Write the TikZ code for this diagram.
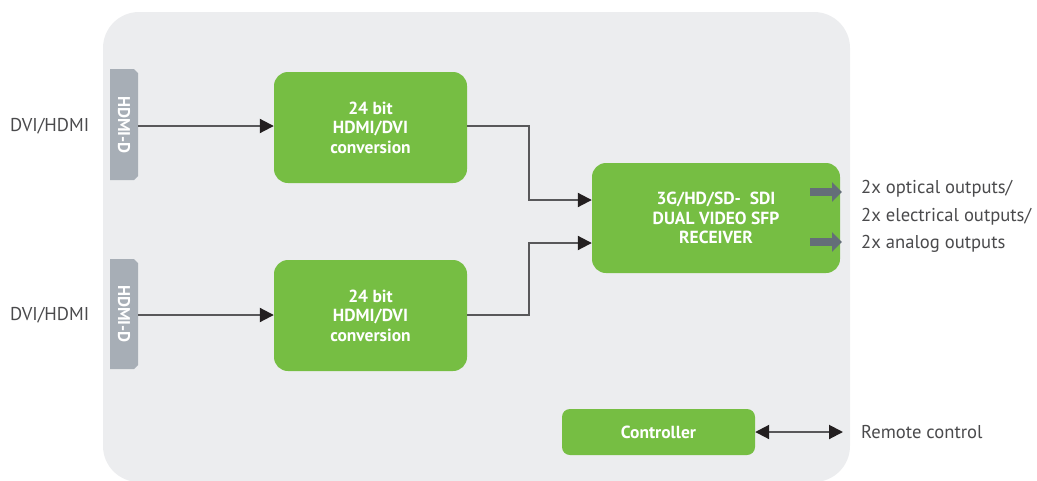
\documentclass[tikz,border=0pt]{standalone}
\usepackage{fontspec}
\setmainfont{PT Sans}
\usetikzlibrary{arrows.meta,calc}
\definecolor{bgpanel}{HTML}{ECEDEF}
\definecolor{boxgreen}{HTML}{76BE43}
\definecolor{conngray}{HTML}{A7AEB6}
\definecolor{blockgray}{HTML}{646E78}
\definecolor{linegray}{HTML}{58585A}
\definecolor{tipblack}{HTML}{231F20}
\definecolor{textgray}{HTML}{4A4A4C}
\tikzset{
  greenbox/.style={fill=boxgreen, draw=none, rounded corners=14pt, text=white,
    font=\bfseries\fontsize{17.5}{19.5}\selectfont, align=center, inner sep=0pt},
  conn/.style={draw=linegray, line width=2pt,
    -{Triangle[length=14pt,width=14pt,color=tipblack]}},
  lbl/.style={text=textgray, font=\fontsize{18.6}{20}\selectfont, inner sep=0pt},
  blockarrow/.style={draw=blockgray, line width=8pt,
    -{Triangle[length=10pt,width=19pt,color=blockgray]}},
  conntext/.style={text=white, font=\bfseries\fontsize{17}{18}\selectfont, rotate=-90, inner sep=0pt}
}
\begin{document}
\begin{tikzpicture}[x=1pt,y=-1pt]
\useasboundingbox (0,0) rectangle (1037,480);
% background panel
\fill[bgpanel, rounded corners=36pt] (103,12) rectangle (850,482);
% connectors
\fill[conngray] (110,69) -- (134,69) -- (138,73) -- (138,176) -- (134,180) -- (110,180) -- cycle;
\fill[conngray] (110,259) -- (134,259) -- (138,263) -- (138,365) -- (134,369) -- (110,369) -- cycle;
\node[conntext] (c1t) at (124,125) {HDMI-D};
\node[conntext] (c2t) at (124,314) {HDMI-D};
\coordinate (c1) at (138,126);
\coordinate (c2) at (138,315);
% boxes
\node[greenbox, minimum width=193pt, minimum height=111pt] (b1) at (370.5,127.5) {24 bit\\HDMI/DVI\\conversion};
\node[greenbox, minimum width=193pt, minimum height=111pt] (b2) at (370.5,315.5) {24 bit\\HDMI/DVI\\conversion};
\node[greenbox, minimum width=248pt, minimum height=110pt] (sfp) at (716,218) {3G/HD/SD-\ \ SDI\\DUAL VIDEO SFP\\RECEIVER};
\node[greenbox, rounded corners=8pt, minimum width=193pt, minimum height=46pt] (ctl) at (658.5,432) {Controller};
% labels
\node[lbl, anchor=west] (in1) at (10,126) {DVI/HDMI};
\node[lbl, anchor=west] (in2) at (10,315) {DVI/HDMI};
\node[lbl, anchor=west] (o1) at (861,189) {2x optical outputs/};
\node[lbl, anchor=west] (o2) at (861,217) {2x electrical outputs/};
\node[lbl, anchor=west] (o3) at (861,244) {2x analog outputs};
\node[lbl, anchor=west] (rc) at (861,432) {Remote control};
% connectors
\draw[conn] (c1) -- (c1 -| b1.west);
\draw[conn] (c2) -- (c2 -| b2.west);
\draw[conn] (b1.east |- 0,126) -- (529,126) -- (529,200) -- (sfp.west |- 0,200);
\draw[conn] (b2.east |- 0,315) -- (529,315) -- (529,243) -- (sfp.west |- 0,243);
\coordinate (rcend) at (843,432);
\draw[draw=linegray, line width=2pt,
  {Triangle[length=14pt,width=14pt,color=tipblack]}-{Triangle[length=14pt,width=14pt,color=tipblack]}]
  (ctl.east) -- (rcend);
% block arrows
\draw[blockarrow] (810,192) -- (842,192);
\draw[blockarrow] (810,242) -- (842,242);
\end{tikzpicture}
\end{document}
